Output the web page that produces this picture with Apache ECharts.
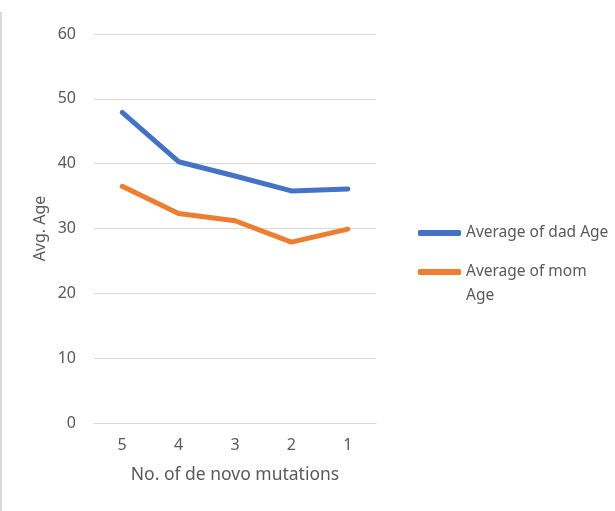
<!DOCTYPE html>
<html>
<head>
<meta charset="utf-8">
<script src="https://cdn.jsdelivr.net/npm/echarts@6/dist/echarts.min.js"></script>
<style>
  html, body { margin: 0; padding: 0; background: #fff; }
  #chart { width: 615px; height: 511px; }
</style>
</head>
<body>
<div id="chart"></div>
<script>
// data
const categories = ['5', '4', '3', '2', '1']
const dadAge = [47.9, 40.3, 38.1, 35.8, 36.1]
const momAge = [36.5, 32.3, 31.2, 27.9, 29.9]
const seriesNames = ['Average of dad Age', 'Average of mom Age']

const textColor = '#595959'
const gridColor = '#d9d9d9'
const font = 'Noto Sans'

const chart = echarts.init(document.getElementById('chart'))

const legendBase = {
  orient: 'vertical',
  left: 418,
  padding: 0,
  icon: 'roundRect',
  itemWidth: 43,
  itemHeight: 6,
  itemGap: 3,
  textStyle: { color: textColor, fontSize: 15.5, fontFamily: font, lineHeight: 24 }
}

chart.setOption({
  animation: false,
  backgroundColor: '#fff',
  grid: { left: 94, right: 239, top: 34, bottom: 88 },
  legend: [
    Object.assign({}, legendBase, {
      top: 221,
      data: [seriesNames[0]]
    }),
    Object.assign({}, legendBase, {
      top: 236,
      data: [seriesNames[1]],
      // wrapped like the original; empty first line keeps the icon on the first text line
      formatter: function(name) {
        return '\nAverage of mom\nAge'
      }
    })
  ],
  xAxis: {
    type: 'category',
    data: categories,
    name: 'No. of de novo mutations',
    nameLocation: 'middle',
    nameGap: 43,
    nameTextStyle: { color: textColor, fontSize: 17.5, fontFamily: font },
    axisLine: { show: true, lineStyle: { color: gridColor, width: 1 } },
    axisTick: { show: false },
    axisLabel: { color: textColor, fontSize: 16, fontFamily: font, margin: 14 }
  },
  yAxis: {
    type: 'value',
    min: 0,
    max: 60,
    interval: 10,
    name: 'Avg. Age',
    nameLocation: 'middle',
    nameGap: 46,
    nameTextStyle: { color: textColor, fontSize: 16, fontFamily: font },
    axisLine: { show: false },
    axisTick: { show: false },
    axisLabel: { color: textColor, fontSize: 16, fontFamily: font, margin: 18 },
    splitLine: { lineStyle: { color: gridColor, width: 1 } }
  },
  graphic: [{
    type: 'line',
    shape: { x1: 1, y1: 12, x2: 1, y2: 511 },
    style: { stroke: gridColor, lineWidth: 2 }
  }],
  series: [
    {
      name: seriesNames[0],
      type: 'line',
      data: dadAge,
      symbol: 'none',
      color: '#4472C4',
      lineStyle: { width: 5, cap: 'round', join: 'round' }
    },
    {
      name: seriesNames[1],
      type: 'line',
      data: momAge,
      symbol: 'none',
      color: '#ED7D31',
      lineStyle: { width: 5, cap: 'round', join: 'round' }
    }
  ]
})
</script>
</body>
</html>
